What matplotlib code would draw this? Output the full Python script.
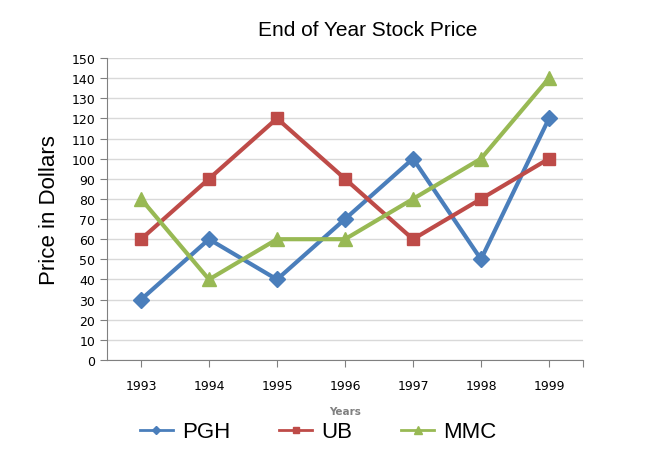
import matplotlib
matplotlib.use("Agg")
import matplotlib.pyplot as plt
import numpy as np

years = ["1993", "1994", "1995", "1996", "1997", "1998", "1999"]
pgh = [30, 60, 40, 70, 100, 50, 120]
ub = [60, 90, 120, 90, 60, 80, 100]
mmc = [80, 40, 60, 60, 80, 100, 140]

fig = plt.figure(figsize=(6.64, 4.6), dpi=100)
ax = fig.add_axes([107/664, 1 - 361/460, (583-107)/664, (361-59)/460])

x = np.arange(len(years))
ax.plot(x, pgh, color="#4A7EBB", lw=3, marker="D", ms=8, label="PGH", zorder=3)
ax.plot(x, ub, color="#BE4B48", lw=3, marker="s", ms=9, label="UB", zorder=3)
ax.plot(x, mmc, color="#98B954", lw=3, marker="^", ms=10, label="MMC", zorder=3)

ax.set_xlim(-0.5, len(years) - 0.5)
ax.set_ylim(0, 150)
ax.set_yticks(range(0, 151, 10))
ax.set_xticks(list(x) + [len(years) - 0.5])
ax.set_xticklabels(years + [""])
ax.tick_params(axis="both", labelsize=9, colors="#808080", labelcolor="black", length=5)
ax.tick_params(axis="x", pad=9)
ax.grid(axis="y", color="#D9D9D9", lw=1)
ax.set_axisbelow(True)
for s in ["top", "right"]:
    ax.spines[s].set_visible(False)
for s in ["left", "bottom"]:
    ax.spines[s].set_color("#808080")

ax.set_ylabel("Price in Dollars", fontsize=16, family="Liberation Sans", labelpad=8)
ax.set_xlabel("Years", fontsize=7.5, color="#808080", fontweight="bold", labelpad=10)
fig.text(368/664, 1 - 31/460, "End of Year Stock Price", fontsize=15,
         family="Liberation Sans", ha="center", va="center")

leg = fig.legend(loc="center", bbox_to_anchor=(318/664, 1 - 433/460), ncol=3,
                 frameon=False, prop={"family": "Liberation Sans", "size": 16},
                 handlelength=1.5, handletextpad=0.4, columnspacing=2.2, markerscale=0.55)
for h in leg.legend_handles:
    h.set_linewidth(2)

fig.savefig("out.png", dpi=100)
